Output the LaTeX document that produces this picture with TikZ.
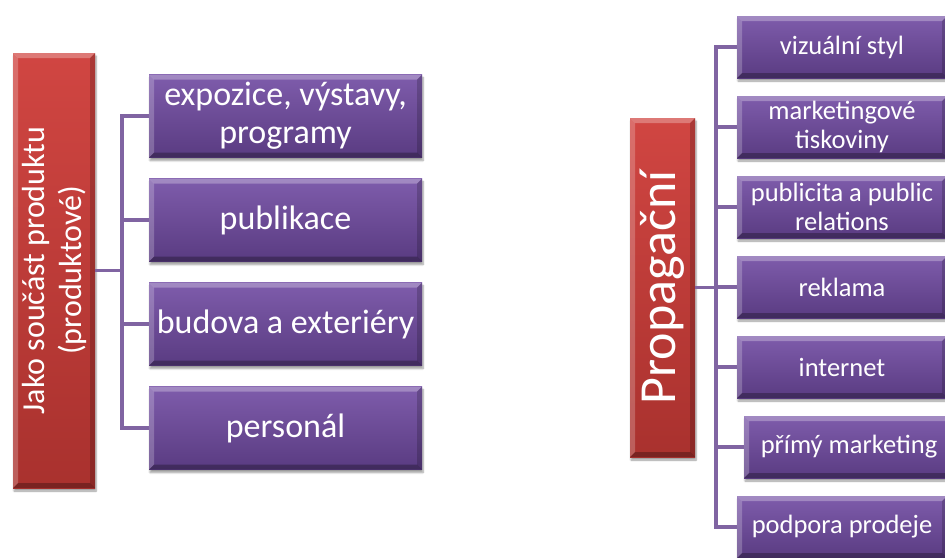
\documentclass[tikz,border=0pt]{standalone}
\usepackage{fontspec}
\setmainfont{Carlito}
\usetikzlibrary{calc, shadows.blur}
\definecolor{accentred}{RGB}{206, 60, 56}
\definecolor{accentpurple}{RGB}{112, 74, 162}
\definecolor{linkpurple}{RGB}{128, 100, 162}

% bevelled edges drawn inside a box
\tikzset{
  bevel/.style={path picture={
      \fill[white, opacity=0.28] (path picture bounding box.north west)
        -- (path picture bounding box.north east) -- ++(-#1,-#1)
        -- ($(path picture bounding box.north west)+(#1,-#1)$) -- cycle;
      \fill[white, opacity=0.22] (path picture bounding box.north west)
        -- (path picture bounding box.south west) -- ++(#1,#1)
        -- ($(path picture bounding box.north west)+(#1,-#1)$) -- cycle;
      \fill[black, opacity=0.18] (path picture bounding box.north east)
        -- (path picture bounding box.south east) -- ++(-#1,#1)
        -- ($(path picture bounding box.north east)+(-#1,-#1)$) -- cycle;
      \fill[black, opacity=0.28] (path picture bounding box.south west)
        -- (path picture bounding box.south east) -- ++(-#1,#1)
        -- ($(path picture bounding box.south west)+(#1,#1)$) -- cycle;
    }},
  bevel/.default=5pt
}

\begin{document}
\begin{tikzpicture}[x=1pt, y=-1pt,
    every node/.style={text=white, inner sep=0pt},
    redbox/.style={rectangle, top color=accentred!95!white, bottom color=accentred!82!black,
      bevel, blur shadow={shadow xshift=1pt, shadow yshift=-3pt, shadow blur steps=6}},
    itembox/.style={rectangle, top color=accentpurple!90!white, bottom color=accentpurple!80!black,
      bevel, align=center, blur shadow={shadow xshift=1pt, shadow yshift=-3pt, shadow blur steps=6}},
    leftitem/.style={itembox, minimum width=273pt, minimum height=83pt,
      font=\fontsize{34}{38}\selectfont},
    rightitem/.style={itembox, minimum width=210pt, minimum height=62pt,
      font=\fontsize{26.5}{29}\selectfont},
    link/.style={draw=linkpurple, line width=3.5pt}]

  \useasboundingbox (0,0) rectangle (945,557);

  % Product side
  \node[redbox, minimum width=82pt, minimum height=435pt] (prod) at (54,270.5) {};
  \node[rotate=90, align=center, font=\fontsize{32}{37}\selectfont] (prodtext) at (prod.center)
    {Jako součást produktu\\(produktové)};

  \node[leftitem] (expo) at (285.5,116) {expozice, výstavy,\\programy};
  \node[leftitem] (publ) at (285.5,220) {publikace};
  \node[leftitem] (budova) at (285.5,324) {budova a exteriéry};
  \node[leftitem] (pers) at (285.5,428) {personál};

  \coordinate (ltrunk) at ($(prod.east)+(27,0)$);
  \draw[link] (prod.east) -- (ltrunk);
  \foreach \n in {expo, publ, budova, pers}
    \draw[link] (\n.west) -| (ltrunk);

  % Promotion side
  \node[redbox, minimum width=65pt, minimum height=339pt] (prom) at (662.5,287.5) {};
  \node[rotate=90, font=\fontsize{52}{58}\selectfont] (promtext) at (prom.center) {Propagační};

  \node[rightitem] (visual) at (842,47) {vizuální styl};
  \node[rightitem] (print) at (842,127) {marketingové\\tiskoviny};
  \node[rightitem] (publicity) at (842,207) {publicita a public\\relations};
  \node[rightitem] (advert) at (842,287) {reklama};
  \node[rightitem] (internet) at (842,367) {internet};
  \node[rightitem] (direct) at (849,447) {přímý marketing};
  \node[rightitem] (sales) at (842,527) {podpora prodeje};

  \coordinate (rtrunk) at ($(prom.east)+(21,0)$);
  \draw[link] (prom.east) -- (rtrunk);
  \foreach \n in {visual, print, publicity, advert, internet, direct, sales}
    \draw[link] (\n.west) -| (rtrunk);
\end{tikzpicture}
\end{document}
